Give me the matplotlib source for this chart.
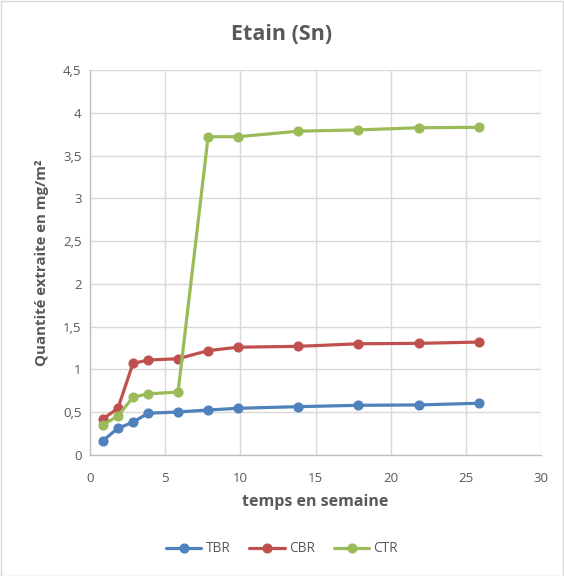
import matplotlib
matplotlib.use("Agg")
import matplotlib.pyplot as plt
from matplotlib.ticker import FuncFormatter, MultipleLocator

# Sampling times (weeks) and extracted quantity (mg/m²) for each series
weeks = [0.857, 1.857, 2.857, 3.857, 5.857, 7.857, 9.857, 13.857, 17.857, 21.857, 25.857]
tbr = [0.167, 0.312, 0.383, 0.488, 0.503, 0.526, 0.546, 0.565, 0.581, 0.585, 0.605]
cbr = [0.421, 0.546, 1.07, 1.11, 1.125, 1.22, 1.26, 1.27, 1.30, 1.305, 1.32]
ctr = [0.351, 0.456, 0.675, 0.715, 0.735, 3.72, 3.72, 3.785, 3.80, 3.825, 3.83]

series = [("TBR", tbr, "#4f81bd"), ("CBR", cbr, "#c0504d"), ("CTR", ctr, "#9bbb59")]

plt.rcParams["font.family"] = ["Open Sans", "DejaVu Sans"]
text_col = "#595959"

fig = plt.figure(figsize=(5.64, 5.76), dpi=100)
ax = fig.add_axes([90 / 564, 1 - 455 / 576, (541 - 90) / 564, (455 - 70) / 576])

for name, vals, col in series:
    ax.plot(weeks, vals, color=col, lw=2.3, marker="o", ms=6.3, label=name,
            solid_capstyle="round", zorder=3)

ax.set_xlim(0, 30)
ax.set_ylim(0, 4.5)
ax.xaxis.set_major_locator(MultipleLocator(5))
ax.yaxis.set_major_locator(MultipleLocator(0.5))

fmt = FuncFormatter(lambda v, p: ("%g" % v).replace(".", ","))
ax.yaxis.set_major_formatter(fmt)
ax.xaxis.set_major_formatter(fmt)

ax.grid(True, color="#d9d9d9", lw=1.0, zorder=0)
ax.set_axisbelow(True)
for side in ("top", "right"):
    ax.spines[side].set_visible(False)
for side in ("left", "bottom"):
    ax.spines[side].set_color("#bfbfbf")
    ax.spines[side].set_linewidth(1.0)
ax.tick_params(length=0, labelsize=9.5, colors=text_col)
ax.tick_params(axis="y", pad=6)
ax.tick_params(axis="x", pad=12)

ax.set_xlabel("temps en semaine", fontsize=11.5, fontweight="bold", color=text_col, labelpad=7)
ax.set_ylabel("Quantité extraite en mg/m²", fontsize=10.8, fontweight="bold", color=text_col, labelpad=10)

fig.text(0.5, 1 - 35 / 576, "Etain (Sn)", ha="center", va="center",
         fontsize=15.5, fontweight="bold", color=text_col)

leg = fig.legend(loc="center", bbox_to_anchor=(0.5, 1 - 549 / 576), ncol=3,
                 frameon=False, fontsize=9.8, handlelength=2.6, columnspacing=1.4,
                 handletextpad=0.3)
for t in leg.get_texts():
    t.set_color(text_col)

# Light chart-area border
border = plt.Rectangle((0.5 / 564, 0.5 / 576), 1 - 1.5 / 564, 1 - 1.5 / 576,
                       transform=fig.transFigure, fill=False, ec="#d9d9d9", lw=1.0)
fig.patches.append(border)

fig.savefig("out.png", dpi=100)
